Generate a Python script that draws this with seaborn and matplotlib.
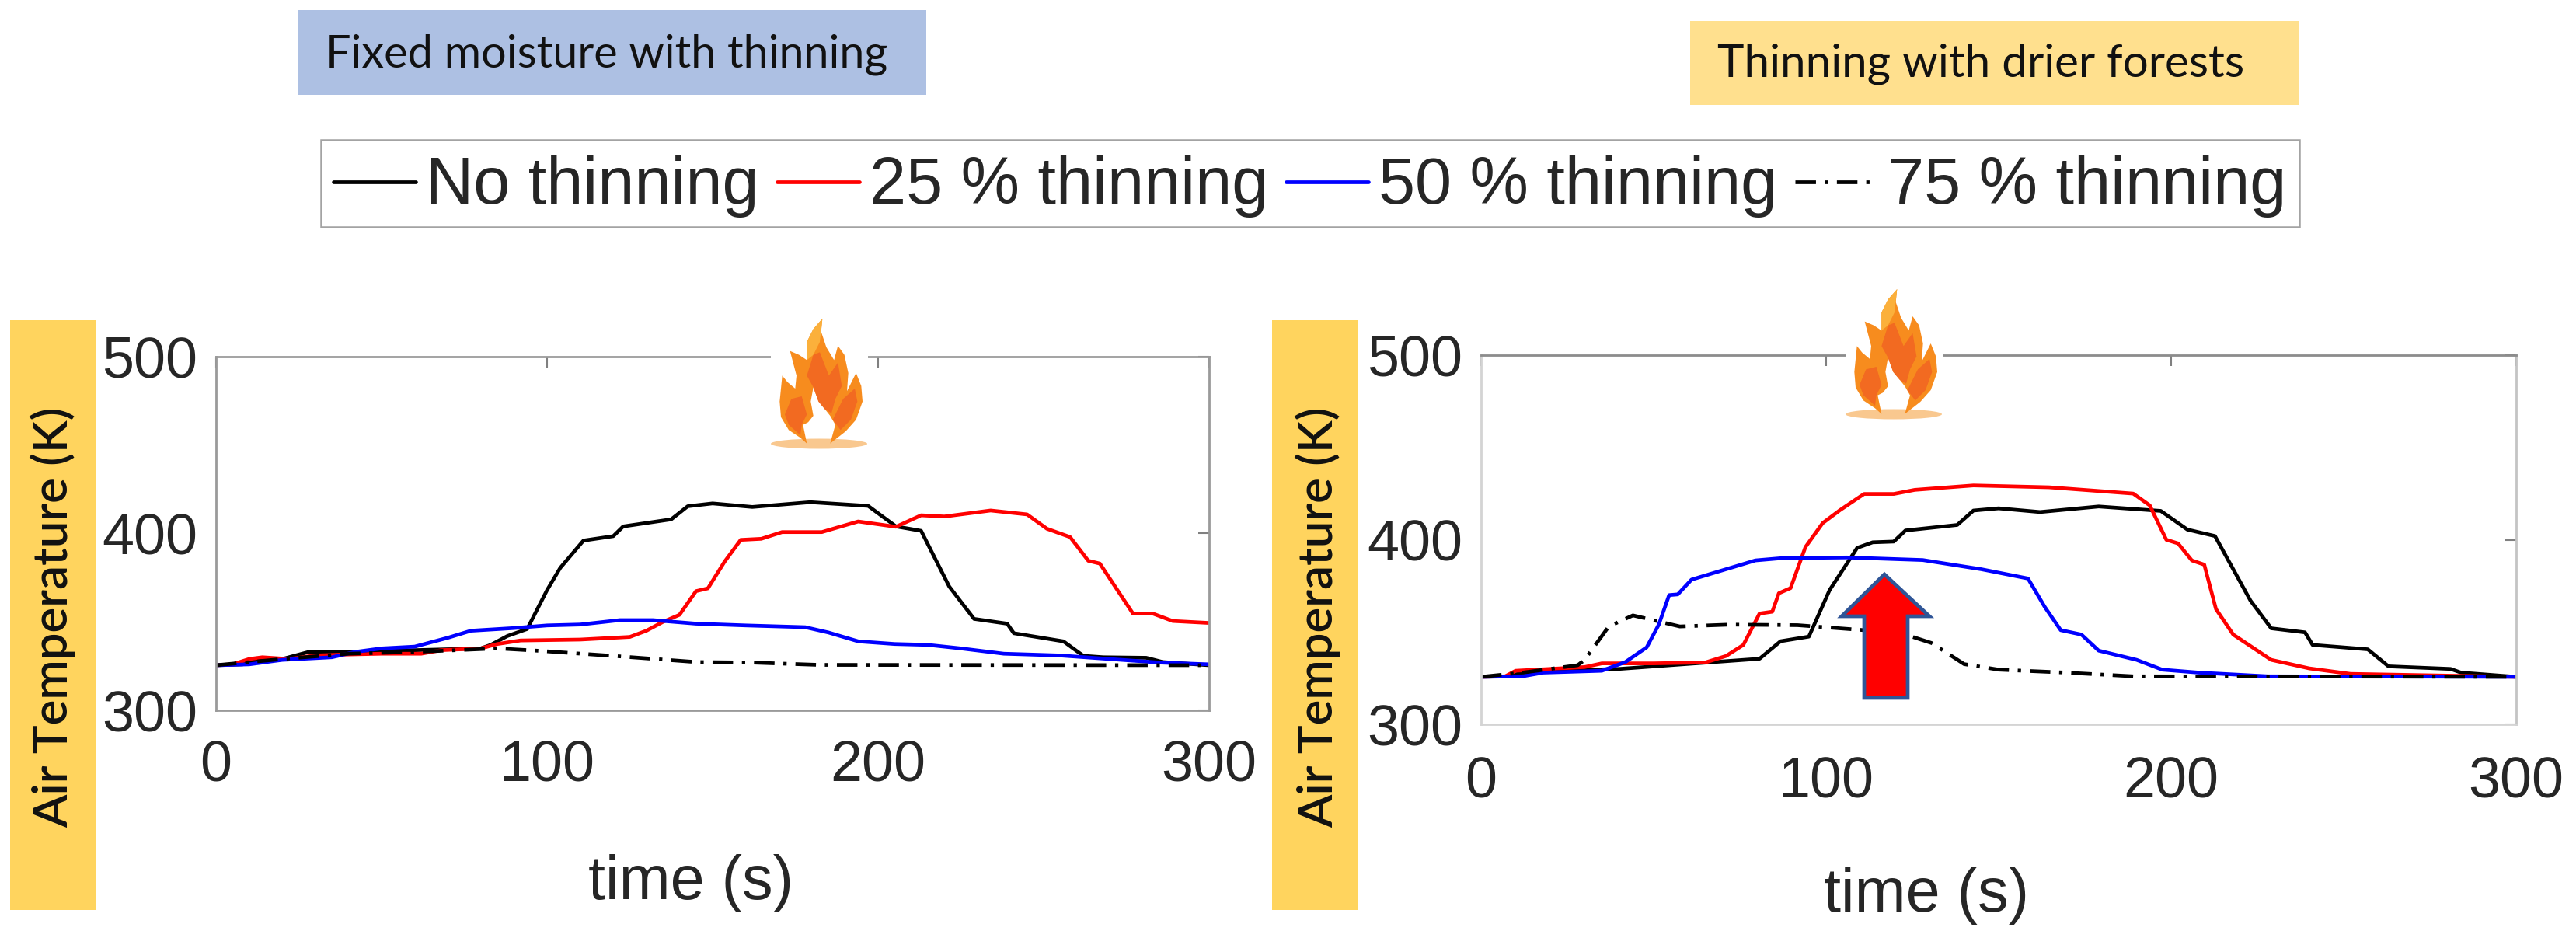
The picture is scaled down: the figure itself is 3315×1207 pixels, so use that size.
import pandas as pd
import matplotlib.pyplot as plt
from matplotlib.patches import Rectangle, Polygon, Ellipse
import seaborn as sns

# Fixed moisture with thinning (left panel)
t_none_l = [0, 8, 12, 20, 28, 40, 50, 60, 80, 83, 88, 94, 100, 104, 111, 120, 123, 137.5, 142.5, 150, 162, 179.5, 197, 205.4, 213, 221.5, 229, 239, 241, 256, 262, 268, 281, 286, 300]
T_none_l = [325.5, 326, 328, 329, 333, 333, 333.5, 334, 335, 337, 342, 346, 368, 380.6, 396, 398.5, 404, 408, 415.4, 417, 415, 417.7, 415.6, 404, 401.5, 370, 351.7, 349, 343.6, 339, 330.8, 330, 329.7, 327.3, 325.5]
t_25_l = [0, 5, 10, 14, 22, 30, 38, 50, 62, 68, 80, 85, 92, 110, 125, 130, 135, 140, 145, 148.6, 153.6, 158.5, 164.7, 171, 183, 187, 194, 205.4, 213, 220, 234, 245, 251, 258, 263.5, 267, 277, 283, 289, 300]
T_25_l = [325.5, 326, 329, 330, 329, 331, 331.5, 332, 332, 334, 335, 337.5, 339.5, 340, 341.5, 345, 350, 354, 367.4, 369, 384, 396.4, 397, 400.8, 400.8, 403, 406.8, 403.8, 410.3, 409.6, 413, 410.8, 402.7, 398, 384.6, 383, 354.7, 354.7, 350.5, 349.4]
t_50_l = [0, 10, 20, 35, 42, 50, 60, 70, 77, 90, 100, 110, 122, 132, 145, 160, 178, 185, 194, 205, 215, 225, 238, 255, 270, 285, 300]
T_50_l = [325.5, 326, 328.5, 330, 333, 335, 336, 341, 345, 346.5, 348, 348.5, 351, 351, 349, 348, 347, 344, 339, 337.5, 337, 335, 332, 331, 329, 327, 326]
t_75_l = [0, 20, 40, 60, 85, 98, 122.7, 145, 162, 182, 300]
T_75_l = [325.5, 329, 332, 333, 335, 333.6, 330.4, 327.3, 327, 325.7, 325.5]

# Thinning with drier forests (right panel)
t_none_r = [0, 8, 12, 20, 40, 57.6, 80.7, 86.8, 95, 101, 109, 113.5, 119.6, 123, 138, 142.7, 150, 162, 179, 197, 204.7, 212.7, 223, 229, 238.8, 241, 257, 263, 281, 284, 300]
T_none_r = [325.7, 326, 328, 329, 330, 332.4, 335.5, 345, 347.5, 372.7, 395.6, 398.6, 399, 405, 408, 415.8, 417, 415, 418, 415.6, 405.5, 402, 367, 352, 349.8, 343, 340.6, 331.4, 330, 328, 325.7]
t_25_r = [0, 7, 10, 20, 30, 35, 50, 65, 71, 76, 80.7, 84.4, 86.3, 89.7, 94, 99, 104, 111, 119.6, 125.7, 142.7, 164.6, 189, 193.8, 198.6, 202, 206, 209.6, 213, 218, 229, 240, 252, 300]
T_25_r = [325.7, 326, 329, 330, 331, 333, 333, 333.5, 337, 343, 360, 361, 371, 373.8, 396, 409, 416, 424.8, 424.8, 427, 429.4, 428.4, 425, 418.6, 400, 398, 388.8, 386.5, 362.4, 348.6, 334.9, 330.3, 327.3, 325.7]
t_50_r = [0, 12, 18, 35, 41.8, 48, 51.5, 54.5, 57, 61, 79.5, 87, 106, 128, 145, 158.5, 163.4, 168, 174, 179, 190, 197.4, 208, 228, 300]
T_50_r = [325.7, 326, 328, 329, 333.7, 341.7, 354, 370, 370.4, 378.4, 388.8, 390, 390.4, 389, 384, 379, 363.5, 351, 348.6, 339.9, 334.9, 329.6, 328, 326, 325.7]
t_75_r = [0, 12, 20, 28, 30, 37, 44, 57.6, 72, 91.7, 111, 123, 130.6, 140, 150, 169.5, 189, 300]
T_75_r = [325.7, 328, 330, 332, 334.9, 353, 359, 353, 354, 353.7, 351, 348.6, 344, 332.6, 329.6, 328, 326, 325.7]

labels = ['No thinning', '25 % thinning', '50 % thinning', '75 % thinning']
xticks = [0, 100, 200, 300]
yticks = [300, 400, 500]

W, H = 3315, 1207
palette = dict(zip(labels, ['black', '#ff0000', '#0000ff', 'black']))
dash_map = dict(zip(labels, ['', '', '', (5.6, 2.4, 0.9, 2.4)]))

# flame shapes, px in a 160x190 box x3
flame_outer = [(190, 512), (165, 490), (120, 460), (90, 410), (85, 350), (95, 250), (115, 275), (145, 300), (150, 250), (125, 155), (160, 170), (190, 190), (190, 120), (215, 70), (250, 30), (245, 80), (265, 140), (295, 190), (310, 135), (335, 170), (350, 240), (345, 310), (380, 240), (400, 290), (405, 350), (380, 420), (340, 465), (280, 512), (300, 440), (280, 405), (260, 380), (235, 350), (215, 295), (205, 350), (215, 405), (195, 430), (175, 440)]
flame_mid = [(215, 295), (190, 250), (215, 170), (240, 160), (275, 250), (310, 200), (325, 290), (300, 340), (285, 395), (260, 380), (235, 350)]
flame_low_l = [(105, 400), (130, 340), (170, 330), (190, 400), (170, 440), (165, 480), (120, 440)]
flame_low_r = [(290, 420), (330, 340), (375, 300), (385, 350), (360, 420), (320, 460)]
flame_tip = [(250, 30), (215, 70), (190, 120), (190, 190), (215, 170), (240, 120)]


def make_df(ts, Ts):
    frames = []
    for lab, t, T in zip(labels, ts, Ts):
        frames.append(pd.DataFrame({'time': t, 'temp': T, 'case': lab}))
    return pd.concat(frames, ignore_index=True)


def draw_panel(box, ts, Ts, xlabel_x, xlabel_y, xpad, spine_cols):
    left, top, right, bottom = box
    ax = fig.add_axes([left / W, 1 - bottom / H, (right - left) / W, (bottom - top) / H])
    sns.lineplot(data=make_df(ts, Ts), x='time', y='temp', hue='case', style='case',
                 palette=palette, dashes=dash_map, hue_order=labels, style_order=labels,
                 estimator=None, errorbar=None, sort=False, linewidth=3.4, legend=False, ax=ax)
    ax.set_xlim(0, 300)
    ax.set_ylim(300, 500)
    ax.set_xticks(xticks)
    ax.set_yticks(yticks)
    ax.set_xlabel('')
    ax.set_ylabel('')
    ax.tick_params(axis='both', direction='in', length=10, width=1.5, color='#808080',
                   top=True, right=True, labelsize=53, labelcolor='#262626')
    ax.tick_params(axis='x', pad=xpad)
    ax.tick_params(axis='y', pad=17)
    for name, s in ax.spines.items():
        s.set_color(spine_cols.get(name, '#9a9a9a'))
        s.set_linewidth(2)
    over.text(xlabel_x, xlabel_y, 'time (s)', fontsize=57, color='#262626', ha='center', va='center')
    return ax


def draw_flame(ox, oy):
    # white picture box hides the axes frame behind the flame
    over.add_patch(Rectangle((ox + 17, oy + 10), 125, 168, fc='white', ec='none', zorder=3))
    over.add_patch(Ellipse((ox + 79, oy + 171), 124, 13, fc='#f9c88f', ec='none', zorder=4))
    to_px = lambda pts: [(ox + a / 3, oy + b / 3) for a, b in pts]
    over.add_patch(Polygon(to_px(flame_outer), closed=True, fc='#f78c1e', ec='none', zorder=5))
    over.add_patch(Polygon(to_px(flame_tip), closed=True, fc='#fbb03b', ec='none', zorder=6))
    for shape in [flame_mid, flame_low_l, flame_low_r]:
        over.add_patch(Polygon(to_px(shape), closed=True, fc='#f26a21', ec='none', zorder=6))


sns.set_style('white')
plt.rcParams['font.family'] = ['Liberation Sans', 'DejaVu Sans']

fig = plt.figure(figsize=(W / 100, H / 100), dpi=100)

# overlay in pixel coordinates for the slide decorations
over = fig.add_axes([0, 0, 1, 1], zorder=5)
over.set_xlim(0, W)
over.set_ylim(H, 0)
over.axis('off')
over.patch.set_alpha(0)

ax_l = draw_panel((278, 459, 1556, 914), [t_none_l, t_25_l, t_50_l, t_75_l],
                  [T_none_l, T_25_l, T_50_l, T_75_l], 889, 1137, 27, {})
ax_r = draw_panel((1906, 457, 3238, 932), [t_none_r, t_25_r, t_50_r, t_75_r],
                  [T_none_r, T_25_r, T_50_r, T_75_r], 2479, 1153, 29,
                  {'left': '#d4d4d4', 'bottom': '#d4d4d4', 'right': '#c4c4c4', 'top': '#8c8c8c'})

# coloured label boxes
over.add_patch(Rectangle((384, 13), 808, 109, fc='#adc0e3', ec='none'))
over.add_patch(Rectangle((2175, 27), 783, 108, fc='#ffe08e', ec='none'))
over.add_patch(Rectangle((13, 412), 111, 759, fc='#ffd45e', ec='none'))
over.add_patch(Rectangle((1637, 412), 111, 759, fc='#ffd45e', ec='none'))
over.text(419, 70, 'Fixed moisture with thinning', fontsize=41.5, family='Lato', color='#111111', va='center')
over.text(2210, 82, 'Thinning with drier forests', fontsize=42, family='Lato', color='#111111', va='center')
for cx in [68, 1696]:
    over.text(cx, 794, 'Air Temperature (K)', fontsize=44.5, family='Lato', fontweight='semibold',
              color='#111111', rotation=90, ha='center', va='center')

draw_flame(975, 400)
draw_flame(2358, 362)

# red arrow on the right panel
arrow_pts = [(2425, 739), (2483, 793), (2455, 793), (2455, 898), (2399, 898), (2399, 793), (2370, 793)]
over.add_patch(Polygon(arrow_pts, closed=True, fc='#ff0000', ec='#2f5597', lw=3.4, joinstyle='miter', zorder=7))

leg = fig.legend(handles=ax_l.lines[:4], labels=labels, ncol=4, loc='center',
                 bbox_to_anchor=(1686 / W, 1 - 236 / H), fontsize=61, frameon=True, fancybox=False,
                 handlelength=1.25, handletextpad=0.155, columnspacing=0.27, borderpad=0.19, borderaxespad=0)
leg.get_frame().set_edgecolor('#8c8c8c')
leg.get_frame().set_linewidth(1.8)
leg.set_zorder(10)
# text and handles sit a bit lower in the frame than the default
for txt in leg.get_texts():
    txt.set_y(-4)
for line in leg.get_lines():
    line.set_ydata([y - 4 for y in line.get_ydata()])

fig.savefig('out.png', dpi=100, facecolor='white')
